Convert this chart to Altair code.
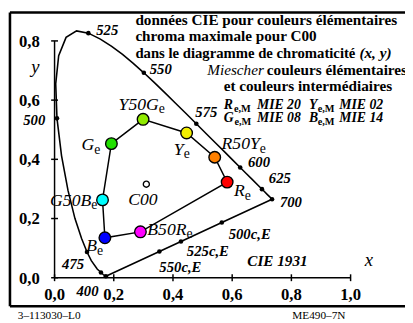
import altair as alt
import pandas as pd

FONT = "Liberation Serif"

# ---------------- data ----------------
locus_nm = [400, 420, 440, 450, 460, 470, 475, 480, 485, 490, 495, 500, 505, 510,
            515, 520, 525, 530, 535, 540, 545, 550, 555, 560, 565, 570, 575, 580,
            585, 590, 595, 600, 605, 610, 620, 625, 630, 640, 650, 660, 680, 700]
locus_x = [0.1733, 0.1714, 0.1644, 0.1566, 0.1440, 0.1241, 0.1096, 0.0913, 0.0687,
           0.0454, 0.0235, 0.0082, 0.0039, 0.0139, 0.0389, 0.0743, 0.1142, 0.1547,
           0.1929, 0.2296, 0.2658, 0.3016, 0.3373, 0.3731, 0.4087, 0.4441, 0.4788,
           0.5125, 0.5448, 0.5752, 0.6029, 0.6270, 0.6482, 0.6658, 0.6915, 0.7006,
           0.7079, 0.7190, 0.7260, 0.7300, 0.7334, 0.7347]
locus_y = [0.0048, 0.0051, 0.0109, 0.0177, 0.0297, 0.0578, 0.0868, 0.1327, 0.2007,
           0.2950, 0.4127, 0.5384, 0.6548, 0.7502, 0.8120, 0.8338, 0.8262, 0.8059,
           0.7816, 0.7543, 0.7243, 0.6923, 0.6589, 0.6245, 0.5896, 0.5547, 0.5202,
           0.4866, 0.4544, 0.4242, 0.3965, 0.3725, 0.3514, 0.3340, 0.3083, 0.2993,
           0.2920, 0.2809, 0.2740, 0.2700, 0.2666, 0.2653]
marked_nm = [400, 450, 475, 500, 525, 550, 575, 600, 625, 700]

purple_names = ["400", "550c,E", "525c,E", "500c,E", "700"]
purple_x = [0.1733, 0.354, 0.427, 0.565, 0.7347]
purple_y = [0.0048, 0.0886, 0.1225, 0.1866, 0.2653]

hue_names = ["Ge", "Y50Ge", "Ye", "R50Ye", "Re", "B50Re", "Be", "G50Be"]
hue_x = [0.192, 0.299, 0.446, 0.541, 0.583, 0.290, 0.170, 0.162]
hue_y = [0.453, 0.535, 0.489, 0.407, 0.323, 0.155, 0.135, 0.263]
hue_colors = ["#22e000", "#90ea00", "#f2ee00", "#ff8000", "#ff0000", "#ff00ff",
              "#0000ff", "#00ffff"]

c00_x = [0.310]
c00_y = [0.316]

x_ticks = [0.0, 0.2, 0.4, 0.6, 0.8, 1.0]
x_tick_labels = ["0,0", "0,2", "0,4", "0,6", "0,8", "1,0"]
y_ticks = [0.0, 0.2, 0.4, 0.6, 0.8]
y_tick_labels = ["0,0", "0,2", "0,4", "0,6", "0,8"]

# ---------------- layout ----------------
W, H = 405, 315
xs = alt.Scale(domain=[-0.157285, 1.183775], nice=False, zero=False)
ys = alt.Scale(domain=[-0.142384, 0.900662], nice=False, zero=False)


def X(f):
    return alt.X(f, type="quantitative", scale=xs, axis=None)


def Y(f):
    return alt.Y(f, type="quantitative", scale=ys, axis=None)


layers = []
one = pd.DataFrame({"a": [0]})

# frame (three visible sides)
fr = dict(color="black", strokeWidth=2.6)
layers.append(alt.Chart(one).mark_rule(**fr).encode(
    x=alt.value(2), x2=alt.value(412), y=alt.value(1.5)))
layers.append(alt.Chart(one).mark_rule(**fr).encode(
    x=alt.value(2), y=alt.value(1.5), y2=alt.value(301)))
layers.append(alt.Chart(one).mark_rule(**fr).encode(
    x=alt.value(2), x2=alt.value(412), y=alt.value(301)))

# axes
axdf = pd.DataFrame({"x0": [0.0], "x1": [max(x_ticks)], "y0": [0.0], "y1": [max(y_ticks)]})
layers.append(alt.Chart(axdf).mark_rule(color="black", strokeWidth=1.5).encode(
    x=X("x0"), x2="x1", y=Y("y0")))
layers.append(alt.Chart(axdf).mark_rule(color="black", strokeWidth=1.5).encode(
    x=X("x0"), y=Y("y0"), y2="y1"))
xt = pd.DataFrame({"v": x_ticks, "t": x_tick_labels, "z": [0.0] * len(x_ticks)})
yt = pd.DataFrame({"v": y_ticks, "t": y_tick_labels, "z": [0.0] * len(y_ticks)})
layers.append(alt.Chart(xt).mark_tick(orient="vertical", size=7, thickness=1.5,
                                      color="black", opacity=1).encode(x=X("v"), y=Y("z")))
layers.append(alt.Chart(yt).mark_tick(orient="horizontal", size=7, thickness=1.5,
                                      color="black", opacity=1).encode(x=X("z"), y=Y("v")))
layers.append(alt.Chart(xt).mark_text(font=FONT, fontSize=17, fontWeight="bold",
                                      align="center", baseline="alphabetic", dy=23,
                                      color="black").encode(x=X("v"), y=Y("z"), text="t"))
layers.append(alt.Chart(yt).mark_text(font=FONT, fontSize=17, fontWeight="bold",
                                      align="right", baseline="middle", dx=-15, dy=1,
                                      color="black").encode(x=X("z"), y=Y("v"), text="t"))

# spectral locus
loc = pd.DataFrame({"nm": locus_nm, "x": locus_x, "y": locus_y})
layers.append(alt.Chart(loc).mark_line(color="black", strokeWidth=1.6).encode(
    x=X("x"), y=Y("y"), order="nm:Q"))
pur = pd.DataFrame({"n": purple_names, "x": purple_x, "y": purple_y,
                    "o": list(range(len(purple_x)))})
layers.append(alt.Chart(pur).mark_line(color="black", strokeWidth=1.6).encode(
    x=X("x"), y=Y("y"), order="o:Q"))
mk = loc[loc["nm"].isin(marked_nm)]
layers.append(alt.Chart(mk).mark_point(filled=True, color="black", size=22, opacity=1).encode(
    x=X("x"), y=Y("y")))
layers.append(alt.Chart(pur.iloc[1:4]).mark_point(filled=True, color="black", size=22,
                                                  opacity=1).encode(x=X("x"), y=Y("y")))

# hue circle
hue = pd.DataFrame({"n": hue_names + [hue_names[0]], "x": hue_x + [hue_x[0]],
                    "y": hue_y + [hue_y[0]], "o": list(range(len(hue_x) + 1))})
layers.append(alt.Chart(hue).mark_line(color="black", strokeWidth=1.5).encode(
    x=X("x"), y=Y("y"), order="o:Q"))
hp = pd.DataFrame({"n": hue_names, "x": hue_x, "y": hue_y, "c": hue_colors})
layers.append(alt.Chart(hp).mark_point(filled=True, size=140, stroke="black",
                                       strokeWidth=1.4, opacity=1).encode(
    x=X("x"), y=Y("y"), fill=alt.Fill("c:N", scale=None)))
cdf = pd.DataFrame({"x": c00_x, "y": c00_y})
layers.append(alt.Chart(cdf).mark_point(filled=True, size=38, fill="white", stroke="black",
                                        strokeWidth=1.4, opacity=1).encode(x=X("x"), y=Y("y")))


def text_at(df, txt, **kw):
    base = dict(font=FONT, color="black", baseline="alphabetic")
    base.update(kw)
    return alt.Chart(df).mark_text(text=txt, **base).encode(x=X("x"), y=Y("y"))


# spectral labels: (label, nm, align, dx, dy)
spec_lab = [("525", 525, "left", 8, 2), ("550", 550, "left", 6, 1),
            ("575", 575, "left", -1, -7), ("600", 600, "left", 8, 0),
            ("625", 625, "left", 7, -6), ("700", 700, "left", 8, 8),
            ("500", 500, "right", -12, 7), ("475", 475, "right", -3, 17),
            ("400", 400, "right", -7.5, 20)]
for lab, nm, al, dx, dy in spec_lab:
    d = loc[loc["nm"] == nm][["x", "y"]]
    layers.append(text_at(d, lab, fontSize=15, fontWeight="bold", fontStyle="italic",
                          align=al, dx=dx, dy=dy))
pur_lab = [("550c,E", 0, 21), ("525c,E", 6, 15), ("500c,E", 7, 17)]
for lab, dx, dy in pur_lab:
    d = pur[pur["n"] == lab][["x", "y"]]
    layers.append(text_at(d, lab, fontSize=15, fontWeight="bold", fontStyle="italic",
                          align="left", dx=dx, dy=dy))

# hue labels: (name, main, subscript, dx junction, dy baseline)
hue_lab = [("Y50Ge", "Y50G", "e", 16, -10), ("Ge", "G", "e", -17.5, 7),
           ("Ye", "Y", "e", -3, 22.5), ("R50Ye", "R50Y", "e", 46, -8),
           ("Re", "R", "e", 18, 14.5), ("B50Re", "B50R", "e", 47, 3),
           ("Be", "B", "e", -8, 14), ("G50Be", "G50B", "e", -11.5, 6)]
for name, main, sub, dx, dy in hue_lab:
    d = hp[hp["n"] == name][["x", "y"]]
    layers.append(text_at(d, main, fontSize=18, fontStyle="italic", align="right",
                          dx=dx, dy=dy))
    layers.append(text_at(d, sub, fontSize=14, align="left", dx=dx, dy=dy + 3.5))
layers.append(text_at(cdf, "C00", fontSize=18, fontStyle="italic", align="center",
                      dx=-3.5, dy=21.5))

# titles & annotations: (text, x, y, style, align)
B = dict(fontSize=15.5, fontWeight="bold")
B3 = dict(fontSize=15, fontWeight="bold")
BI = dict(fontSize=15.5, fontWeight="bold", fontStyle="italic")
BI2 = dict(fontSize=14, fontWeight="bold", fontStyle="italic")
I = dict(fontSize=15.5, fontStyle="italic")
SUB = dict(fontSize=10.5, fontWeight="bold")
notes = [
    ("données CIE pour couleurs élémentaires", 0.273, 0.8526, B, "left"),
    ("chroma maximale pour C00", 0.273, 0.8003, B, "left"),
    ("dans le diagramme de chromaticité", 0.273, 0.7417, B3, "left"),
    ("(x, y)", 1.0298, 0.7417, BI, "left"),
    ("Miescher", 0.707, 0.6844, I, "right"),
    ("couleurs élémentaires", 0.717, 0.6844, B, "left"),
    ("et couleurs intermédiaires", 0.5712, 0.6315, B, "left"),
    ("R", 0.5712, 0.5695, BI2, "left"), ("e,M", 0.606, 0.5596, SUB, "left"),
    ("MIE 20", 0.6838, 0.5695, BI2, "left"),
    ("Y", 0.8593, 0.5695, BI2, "left"), ("e,M", 0.889, 0.5596, SUB, "left"),
    ("MIE 02", 0.9619, 0.5695, BI2, "left"),
    ("G", 0.5712, 0.5265, BI2, "left"), ("e,M", 0.6076, 0.5166, SUB, "left"),
    ("MIE 08", 0.6838, 0.5265, BI2, "left"),
    ("B", 0.8593, 0.5265, BI2, "left"), ("e,M", 0.889, 0.5166, SUB, "left"),
    ("MIE 14", 0.9619, 0.5265, BI2, "left"),
    ("CIE 1931", 0.651, 0.0397, BI, "left"),
    ("x", 1.048, 0.0397, dict(fontSize=19, fontStyle="italic"), "left"),
    ("y", -0.0646, 0.692, dict(fontSize=19, fontStyle="italic"), "center"),
    ("3–113030–L0", -0.1242, -0.139, dict(fontSize=11.5), "left"),
    ("ME490–7N", 0.803, -0.139, dict(fontSize=11.5), "left"),
]
for txt, x, y, st, al in notes:
    d = pd.DataFrame({"x": [x], "y": [y]})
    layers.append(text_at(d, txt, align=al, **st))

chart = alt.layer(*layers).properties(
    width=W, height=H, padding=0, autosize=alt.AutoSizeParams(type="none"),
    background="white"
).configure_view(stroke=None)

chart.save("out.html", embed_options={"renderer": "svg", "actions": False})
